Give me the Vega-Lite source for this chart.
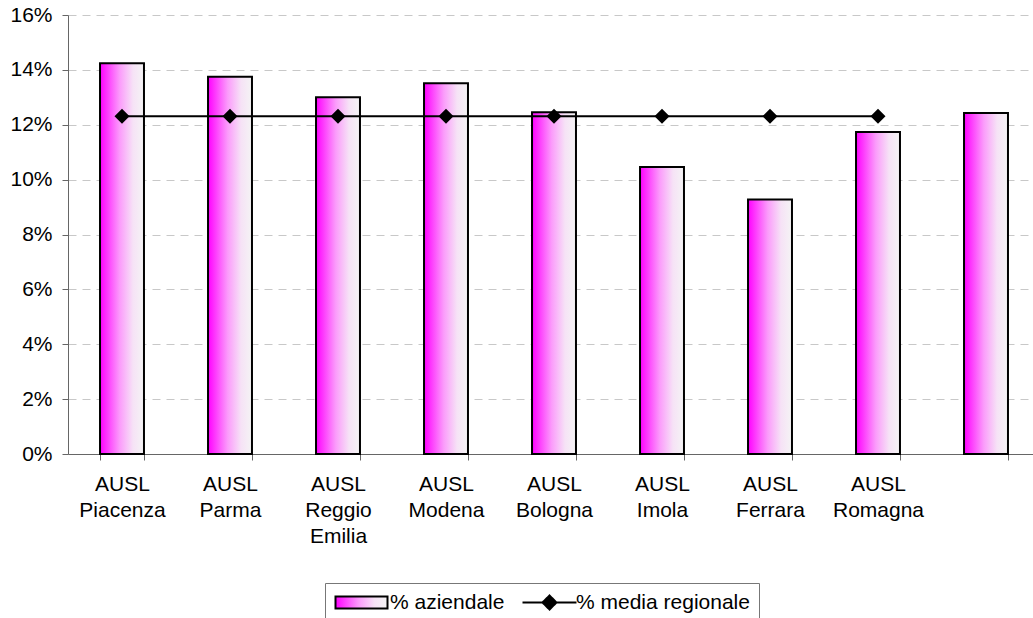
{
  "$schema": "https://vega.github.io/schema/vega-lite/v6.json",
  "autosize": "none",
  "width": 965,
  "height": 439,
  "padding": {"left": 68, "top": 15, "right": 0, "bottom": 164},
  "background": "white",
  "config": {
    "view": {"stroke": null},
    "font": "Liberation Sans"
  },
  "data": {
    "values": [
      {"cat": "AUSL|Piacenza", "aziendale": 0.1424, "media": 0.1231},
      {"cat": "AUSL|Parma", "aziendale": 0.1375, "media": 0.1231},
      {"cat": "AUSL|Reggio|Emilia", "aziendale": 0.1300, "media": 0.1231},
      {"cat": "AUSL|Modena", "aziendale": 0.1351, "media": 0.1231},
      {"cat": "AUSL|Bologna", "aziendale": 0.1246, "media": 0.1231},
      {"cat": "AUSL|Imola", "aziendale": 0.1046, "media": 0.1231},
      {"cat": "AUSL|Ferrara", "aziendale": 0.0928, "media": 0.1231},
      {"cat": "AUSL|Romagna", "aziendale": 0.1174, "media": 0.1231},
      {"cat": "RER", "aziendale": 0.1243, "media": null}
    ]
  },
  "encoding": {
    "x": {
      "field": "cat",
      "type": "nominal",
      "sort": null,
      "scale": {"range": [0, 972], "paddingInner": 0.593, "paddingOuter": 0.2965},
      "axis": {
        "title": null,
        "labelAngle": 0,
        "labelExpr": "datum.label == 'RER' ? '' : split(datum.label, '|')",
        "labelFontSize": 21,
        "labelLineHeight": 26,
        "labelColor": "black",
        "labelPadding": 13,
        "tickBand": "extent",
        "tickSize": 6,
        "tickColor": "#666",
        "domainColor": "#666",
        "grid": false
      }
    }
  },
  "layer": [
    {
      "mark": {
        "type": "bar",
        "strokeWidth": 2,
        "fill": {
          "gradient": "linear",
          "x1": 0, "y1": 0, "x2": 1, "y2": 0,
          "stops": [
            {"offset": 0, "color": "#ff00ff"},
            {"offset": 0.45, "color": "#fb9cfb"},
            {"offset": 0.75, "color": "#f6e2f6"},
            {"offset": 1, "color": "#f4f4f4"}
          ]
        }
      },
      "encoding": {
        "y": {
          "field": "aziendale",
          "type": "quantitative",
          "scale": {"domain": [0, 0.16], "nice": false},
          "axis": {
            "title": null,
            "values": [0, 0.02, 0.04, 0.06, 0.08, 0.1, 0.12, 0.14, 0.16],
            "format": ".0%",
            "labelFontSize": 21,
            "labelColor": "black",
            "labelPadding": 10,
            "tickSize": 6,
            "tickColor": "#666",
            "domainColor": "#666",
            "grid": true,
            "gridColor": "#c8c8c8",
            "gridDash": [8, 6]
          }
        },
        "stroke": {
          "datum": "% aziendale",
          "scale": {"domain": ["% aziendale"], "range": ["black"]},
          "legend": {
            "title": "% media regionale",
            "titleOrient": "right",
            "titleAnchor": "start",
            "titleAlign": "left",
            "titleBaseline": "top",
            "titlePadding": 72,
            "titleFontSize": 21,
            "titleFontWeight": "normal",
            "titleColor": "black",
            "titleFont": "Liberation Sans",
            "orient": "none",
            "legendX": 257,
            "legendY": 568,
            "direction": "horizontal",
            "padding": 9,
            "strokeColor": "#777",
            "labelFontSize": 21,
            "labelColor": "black",
            "labelFont": "Liberation Sans",
            "symbolSize": 100,
            "symbolOffset": 17,
            "labelOffset": 18,
            "symbolStrokeWidth": 2,
            "symbolType": "M-5.2,-1.2H5.2V1.2H-5.2Z"
          }
        }
      }
    },
    {
      "mark": {"type": "line", "strokeWidth": 2, "stroke": "black"},
      "encoding": {
        "y": {"field": "media", "type": "quantitative"},
        "strokeDash": {
          "datum": "% media regionale",
          "scale": {"domain": ["% media regionale"], "range": [[1, 0]]},
          "legend": {
            "title": null,
            "orient": "none",
            "legendX": 471,
            "legendY": 577,
            "padding": 0,
            "labelExpr": "''",
            "labelFontSize": 21,
            "symbolSize": 100,
            "symbolOffset": 0,
            "symbolType": "M-5.4,0H5.4M0,-1.4L1.4,0L0,1.4L-1.4,0ZM0,-0.95L0.95,0L0,0.95L-0.95,0ZM0,-0.5L0.5,0L0,0.5L-0.5,0Z",
            "symbolFillColor": "black",
            "symbolStrokeColor": "black",
            "symbolStrokeWidth": 2
          }
        }
      }
    },
    {
      "mark": {"type": "point", "shape": "diamond", "filled": true, "color": "black", "size": 225, "opacity": 1},
      "encoding": {
        "y": {"field": "media", "type": "quantitative"}
      }
    }
  ]
}
